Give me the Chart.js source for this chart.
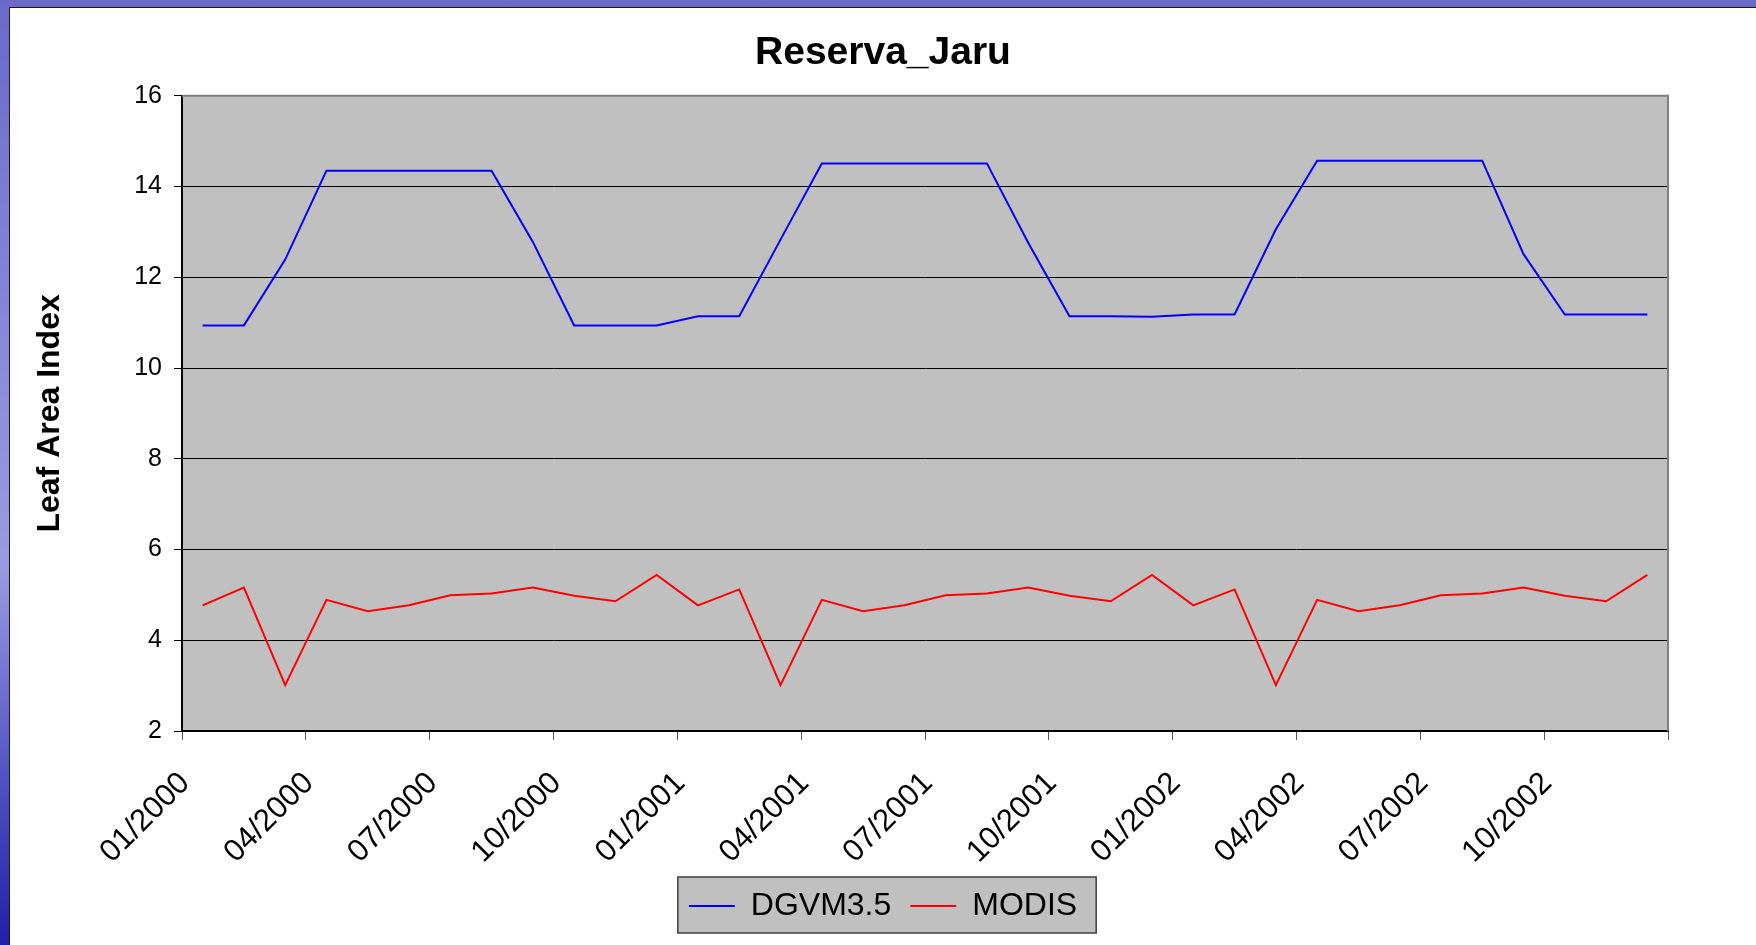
<!DOCTYPE html>
<html>
<head>
<meta charset="utf-8">
<title>Reserva_Jaru</title>
<script src="https://cdn.jsdelivr.net/npm/chart.js@4/dist/chart.umd.min.js"></script>
<style>
  html, body { margin: 0; padding: 0; }
  body {
    width: 1756px; height: 945px; overflow: hidden; position: relative;
    background: linear-gradient(to bottom, #6a6ac8 0%, #8c8cdc 40%, #9a9ae2 60%, #4a4ac0 85%, #2020a8 100%);
  }
  #panel { position: absolute; left: 9px; top: 7px; width: 1760px; height: 950px; background: #fff; border: 1px solid #1a1a1a; }
  #wrap { position: absolute; left: 10px; top: 8px; width: 1746px; height: 937px; }
</style>
</head>
<body>
<div id="panel"></div>
<div id="wrap"><canvas id="chart" width="1746" height="937"></canvas></div>
<script>
// monthly categories, 2000-2002
const months = [
  '01/2000', '02/2000', '03/2000', '04/2000', '05/2000', '06/2000',
  '07/2000', '08/2000', '09/2000', '10/2000', '11/2000', '12/2000',
  '01/2001', '02/2001', '03/2001', '04/2001', '05/2001', '06/2001',
  '07/2001', '08/2001', '09/2001', '10/2001', '11/2001', '12/2001',
  '01/2002', '02/2002', '03/2002', '04/2002', '05/2002', '06/2002',
  '07/2002', '08/2002', '09/2002', '10/2002', '11/2002', '12/2002'
];

const dgvm = [
  10.94, 10.94, 12.39, 14.35, 14.35, 14.35, 14.35, 14.35, 12.78, 10.94, 10.94, 10.94,
  11.14, 11.14, 12.83, 14.51, 14.51, 14.51, 14.51, 14.51, 12.76, 11.14, 11.14, 11.13,
  11.18, 11.18, 13.06, 14.57, 14.57, 14.57, 14.57, 14.57, 12.51, 11.18, 11.18, 11.18
];

const modis = [
  4.77, 5.16, 3.01, 4.89, 4.64, 4.77, 4.99, 5.03, 5.16, 4.98, 4.86, 5.44,
  4.77, 5.12, 3.01, 4.89, 4.64, 4.77, 4.99, 5.03, 5.16, 4.98, 4.86, 5.44,
  4.77, 5.12, 3.01, 4.89, 4.64, 4.77, 4.99, 5.03, 5.16, 4.98, 4.86, 5.44
];

const yMin = 2, yMax = 16, yStep = 2;
const xStep = 3; // a label every 3 months

Chart.defaults.font.family = '"Liberation Sans", Arial, sans-serif';
Chart.defaults.color = '#000';

// grey plot area, grey top/right frame and the boxed legend
const frame = {
  id: 'frame',
  beforeDraw(chart) {
    const ctx = chart.ctx;
    const a = chart.chartArea;
    ctx.save();
    ctx.fillStyle = '#c0c0c0';
    ctx.fillRect(a.left, a.top, a.right - a.left, a.bottom - a.top);

    const boxes = chart.legend.legendHitBoxes;
    if (boxes && boxes.length) {
      const l = Math.min(...boxes.map(b => b.left)) - 11;
      const r = Math.max(...boxes.map(b => b.left + b.width)) + 19;
      const t = boxes[0].top - 13;
      const h = boxes[0].height + 24;
      ctx.fillStyle = '#c0c0c0';
      ctx.fillRect(l, t, r - l, h);
      ctx.strokeStyle = '#404040';
      ctx.lineWidth = 1.5;
      ctx.strokeRect(l, t, r - l, h);
    }
    ctx.restore();
  },
  beforeDatasetsDraw(chart) {
    const ctx = chart.ctx;
    const a = chart.chartArea;
    ctx.save();
    ctx.strokeStyle = '#808080';
    ctx.lineWidth = 2;
    ctx.beginPath();
    ctx.moveTo(a.left, a.top);
    ctx.lineTo(a.right, a.top);
    ctx.lineTo(a.right, a.bottom);
    ctx.stroke();
    ctx.restore();
  }
};

new Chart(document.getElementById('chart'), {
  type: 'line',
  data: {
    datasets: [
      {
        label: 'DGVM3.5',
        data: dgvm.map((v, i) => ({ x: i + 0.5, y: v })),
        borderColor: '#0000ff',
        backgroundColor: '#0000ff',
        borderWidth: 2,
        pointRadius: 0,
        tension: 0
      },
      {
        label: 'MODIS',
        data: modis.map((v, i) => ({ x: i + 0.5, y: v })),
        borderColor: '#ff0000',
        backgroundColor: '#ff0000',
        borderWidth: 2,
        pointRadius: 0,
        tension: 0
      }
    ]
  },
  options: {
    responsive: false,
    animation: false,
    devicePixelRatio: 1,
    layout: { padding: { left: 0, right: 0, top: 0, bottom: 13 } },
    plugins: {
      title: {
        display: true,
        text: 'Reserva_Jaru',
        color: '#000',
        font: { size: 39, weight: 'bold' },
        padding: { top: 22, bottom: 19 }
      },
      legend: {
        position: 'bottom',
        labels: {
          usePointStyle: true,
          pointStyle: 'line',
          pointStyleWidth: 46,
          padding: 19,
          color: '#000',
          font: { size: 32 }
        }
      },
      tooltip: { enabled: false }
    },
    scales: {
      x: {
        type: 'linear',
        min: 0,
        max: months.length,
        afterFit(scale) { scale.height = 140; },
        ticks: {
          stepSize: xStep,
          autoSkip: false,
          minRotation: 45,
          maxRotation: 45,
          padding: 25,
          labelOffset: 3,
          color: '#000',
          font: { size: 31 },
          callback: v => (v < months.length && months[v]) ? months[v] : ''
        },
        grid: { drawOnChartArea: false, tickLength: 9, color: '#555', lineWidth: 1 },
        border: { color: '#000', width: 2 }
      },
      y: {
        min: yMin,
        max: yMax,
        afterFit(scale) { scale.width = 172; },
        ticks: {
          stepSize: yStep,
          padding: 12,
          color: '#000',
          font: { size: 25 }
        },
        grid: { color: '#000', lineWidth: 1, tickLength: 8 },
        border: { color: '#000', width: 2 },
        title: {
          display: true,
          text: 'Leaf Area Index',
          color: '#000',
          font: { size: 32, weight: 'bold' },
          padding: { top: 21, bottom: 0 }
        }
      },
      // empty right margin, kept as a blank axis so the title stays centred on the whole chart
      yRight: {
        position: 'right',
        min: yMin,
        max: yMax,
        afterFit(scale) { scale.width = 88; },
        ticks: { display: false },
        grid: { display: false },
        border: { display: false }
      }
    }
  },
  plugins: [frame]
});
</script>
</body>
</html>
